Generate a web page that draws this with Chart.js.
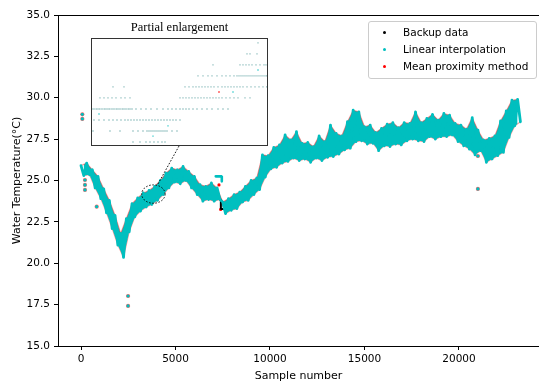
<!DOCTYPE html>
<html>
<head>
<meta charset="utf-8">
<script src="https://cdn.jsdelivr.net/npm/chart.js@4.4.1/dist/chart.umd.min.js"></script>
<style>
html,body{margin:0;padding:0;background:#fff;}
#wrap{position:relative;width:539px;height:383px;overflow:hidden;}
#main{position:absolute;left:0;top:0;}
#insetTitle{position:absolute;left:91px;top:20px;width:177px;text-align:center;font:12.5px "Liberation Serif",serif;color:#000;line-height:14px;}
#insetBox{position:absolute;left:91px;top:38px;width:175px;height:106px;border:1px solid #333;background:#fff;}
#inset{display:block;}
#legend{position:absolute;left:368px;top:21px;width:167px;height:54px;border:1px solid #ccc;border-radius:3px;background:rgba(255,255,255,0.85);
  font:10.5px "DejaVu Sans",sans-serif;color:#000;padding-top:2px;box-sizing:content-box;}
#legend .row{position:relative;height:17px;line-height:17px;padding-left:34px;white-space:nowrap;}
#legend .dot{position:absolute;left:14px;top:7px;width:3px;height:3px;border-radius:50%;}
</style>
</head>
<body>
<div id="wrap">
  <canvas id="main" width="539" height="383"></canvas>
  <div id="insetTitle">Partial enlargement</div>
  <div id="insetBox"><canvas id="inset" width="175" height="106"></canvas></div>
  <div id="legend"></div>
</div>
<script>
// ---- data ----
const seriesNames=['Backup data','Linear interpolation','Mean proximity method'];
const seriesColors=['#000000','#00bfbf','#ff0000'];

const xTicks=[0,5000,10000,15000,20000];
const yTicks=[15,17.5,20,22.5,25,27.5,30,32.5,35];

// daily highs (even positions) and lows (odd positions) of the record
const sampleNo=[0,150,300,450,600,750,900,1050,1200,1350,1500,1650,1800,1950,2100,2250,2400,2550,2700,2850,
 3000,3150,3300,3450,3600,3750,3900,4050,4200,4350,4500,4650,4800,4950,5100,5250,5400,5550,5700,5850,
 6000,6150,6300,6450,6600,6750,6900,7050,7200,7350,7500,7650,7800,7950,8100,8250,8400,8550,8700,8850,
 9000,9150,9300,9450,9600,9750,9900,10050,10200,10350,10500,10650,10800,10950,11100,11250,11400,11550,11700,11850,
 12000,12150,12300,12450,12600,12750,12900,13050,13200,13350,13500,13650,13800,13950,14100,14250,14400,14550,14700,14850,
 15000,15150,15300,15450,15600,15750,15900,16050,16200,16350,16500,16650,16800,16950,17100,17250,17400,17550,17700,17850,
 18000,18150,18300,18450,18600,18750,18900,19050,19200,19350,19500,19650,19800,19950,20100,20250,20400,20550,20700,20850,
 21000,21150,21300,21450,21600,21750,21900,22050,22200,22350,22500,22650,22800,22950,23100,23250];
const waterTemp=[25.90,25.30,26.05,25.35,25.65,24.55,25.25,23.90,24.50,23.05,
 23.80,22.10,22.90,21.10,21.80,20.35,22.70,21.90,23.60,22.80,
 23.95,23.15,24.25,23.40,24.40,23.55,24.65,23.80,25.00,24.15,
 25.45,24.55,25.75,24.90,25.65,24.80,25.85,25.00,25.55,24.55,
 25.25,24.15,24.75,23.75,24.65,23.85,24.85,23.75,24.55,23.85,
 23.70,23.00,23.90,23.20,24.15,23.30,24.30,23.70,24.65,23.80,
 25.00,24.15,25.15,24.45,26.55,25.20,26.50,25.70,27.00,25.80,
 27.15,26.05,27.75,26.15,27.45,26.35,27.95,26.20,27.25,26.30,
 27.30,26.10,27.05,26.35,27.70,26.20,27.35,26.40,28.35,26.45,
 27.85,26.60,27.70,26.85,28.55,26.95,29.25,27.35,29.15,27.40,
 28.25,27.20,28.35,27.25,27.90,26.80,28.15,27.10,28.40,27.05,
 28.50,27.20,28.20,27.15,28.50,27.40,28.45,27.50,29.15,27.40,
 28.50,27.35,28.75,27.65,29.00,27.50,28.65,27.65,29.05,27.65,
 28.95,27.75,28.45,27.35,28.35,27.10,28.10,26.90,28.80,26.55,
 28.05,26.80,27.45,26.10,27.55,26.30,27.70,26.50,28.60,26.70,
 29.20,27.60,29.85,28.30,29.90,28.55];

// short piece near sample 7300
const stepSamples=[7130,7450,7450];
const stepTemps=[25.25,25.25,24.95];
// backup data visible where the band breaks
const backupSamples=[7350,7400,7400,7560];
const backupTemps=[23.85,23.85,23.28,23.28];
// isolated points
const outlierSamples=[70,70,210,210,210,830,2490,2490,21000,21000];
const outlierTemps=[29.0,28.72,25.03,24.73,24.43,23.42,18.02,17.42,26.48,24.49];
const meanOnlySamples=[7300,7390];
const meanOnlyTemps=[24.73,23.25];

// inset: quantised levels and the samples seen on each
const insetLevels=[24.1875,24.125,24.0625,24.0,23.9375,23.875,23.8125,23.75,23.6875,23.625];
const insetRows=[
 [4302],
 [4236,4254,4296],
 [4032,4194,4212,4230,4248,4266,4290,4314,4338,4350],
 [3942,3972,4002,4026,4056,4086,4110,4134,4158,4176,4188,4200,4212,4224,4236,4248,4260,4272,4284,4296,4308,4320,4332,4344,4354],
 [3432,3498,3864,3888,3912,3930,3948,3966,3984,4002,4020,4038,4062,4086,4104,4122,4140,4158,4176,4194,4212,4236,4260,4284,4308,4332,4354],
 [3354,3378,3402,3426,3450,3480,3504,3534,3834,3852,3870,3888,3906,3924,3942,3960,3978,3996,4014,4032,4050,4068,4086,4110,4134,4158,4182,4224,4254],
 [3306,3318,3331,3342,3353,3366,3379,3390,3402,3413,3426,3438,3451,3462,3474,3487,3498,3510,3523,3534,3546,3570,3600,3630,3660,3696,3732,3762,3786,3810,3834,3852,3870,3888,3912,3936,3966,3996,4026,4062,4092,4122],
 [3318,3348,3378,3408,3432,3456,3480,3504,3522,3540,3558,3576,3594,3612,3630,3648,3666,3684,3702,3720,3738,3756,3774,3792,3810,3834],
 [3312,3414,3474,3552,3582,3612,3636,3648,3660,3672,3684,3696,3708,3720,3732,3744,3756,3786,3816],
 [3552,3594,3630,3654,3678,3702,3726,3744]
];
const insetExtraSamples=[4152,4302,3348,3762,3672];
const insetExtraTemps=[23.909,24.034,23.784,23.716,23.659];
const insetRedSamples=[4068];
const insetRedTemps=[23.909];

// ---- helpers ----
const pts=(xs,ys)=>xs.map((x,i)=>({x,y:ys[i]}));
const FONT='DejaVu Sans';
const allPts=pts(sampleNo,waterTemp);
const highPts=allPts.filter((p,i)=>i%2===0);
const lowPts=allPts.filter((p,i)=>i%2===1);

// legend
(function(){
  const lg=document.getElementById('legend');
  seriesNames.forEach((n,i)=>{
    const r=document.createElement('div'); r.className='row';
    const d=document.createElement('span'); d.className='dot'; d.style.background=seriesColors[i];
    r.appendChild(d); r.appendChild(document.createTextNode(n)); lg.appendChild(r);
  });
})();

// top spine + zoom ellipse + connector
const framePlugin={
  id:'frame',
  afterDatasetsDraw(chart){
    const {ctx,chartArea:a,scales:{x,y}}=chart;
    ctx.save();
    ctx.strokeStyle='#000'; ctx.lineWidth=1;
    ctx.beginPath(); ctx.moveTo(a.left,a.top+0.5); ctx.lineTo(a.right,a.top+0.5); ctx.stroke();
    ctx.setLineDash([1.6,1.6]); ctx.lineWidth=0.9;
    const cx=x.getPixelForValue(3831), cy=y.getPixelForValue(24.18);
    const rx=Math.abs(x.getPixelForValue(3831+620)-cx), ry=Math.abs(y.getPixelForValue(24.18+0.556)-cy);
    ctx.beginPath(); ctx.ellipse(cx,cy,rx,ry,0,0,Math.PI*2); ctx.stroke();
    ctx.beginPath();
    ctx.moveTo(x.getPixelForValue(5185),y.getPixelForValue(27.08));
    ctx.lineTo(x.getPixelForValue(4074),y.getPixelForValue(24.79));
    ctx.stroke();
    ctx.restore();
  }
};

const lineDs=(label,data,color,width,order,join)=>({label,data,showLine:true,borderColor:color,borderWidth:width,
  pointRadius:0,borderJoinStyle:join||'bevel',borderCapStyle:'round',fill:false,order});
const dotDs=(label,data,color,r,order)=>({label,data,showLine:false,backgroundColor:color,borderWidth:0,pointRadius:r,order});

const highDs=lineDs(seriesNames[2],highPts,'rgba(255,50,50,0.5)',1.1,4);
highDs.fill={target:2}; highDs.backgroundColor=seriesColors[1];

new Chart(document.getElementById('main'),{
  type:'scatter',
  data:{datasets:[
    lineDs(seriesNames[1],allPts,seriesColors[1],2.8,1,'round'),
    highDs,
    lineDs(seriesNames[2],lowPts,'rgba(255,50,50,0.5)',1.1,4),
    lineDs(seriesNames[1],pts(stepSamples,stepTemps),seriesColors[1],2.6,1),
    dotDs(seriesNames[1],pts(outlierSamples,outlierTemps),seriesColors[1],1.6,1),
    lineDs(seriesNames[0],pts(backupSamples,backupTemps),seriesColors[0],2,2),
    dotDs(seriesNames[2],pts(outlierSamples,outlierTemps),'rgba(255,40,40,0.7)',2.1,3),
    dotDs(seriesNames[2],pts(meanOnlySamples,meanOnlyTemps),seriesColors[2],1.6,3)
  ]},
  options:{
    responsive:false, animation:false,
    layout:{autoPadding:false,padding:{top:15,right:0,left:0,bottom:0}},
    plugins:{legend:{display:false},tooltip:{enabled:false}},
    scales:{
      x:{type:'linear',min:-1217,max:24233,
        afterBuildTicks:s=>{s.ticks=xTicks.map(v=>({value:v}));},
        afterFit:s=>{s.height=37;},
        grid:{display:true,drawOnChartArea:false,drawTicks:true,tickLength:4,color:'#000'},
        border:{display:true,color:'#000',width:1},
        ticks:{color:'#000',font:{family:FONT,size:10.5},padding:3,autoSkip:false,maxRotation:0,callback:v=>String(v)},
        title:{display:true,text:'Sample number',color:'#000',font:{family:FONT,size:11},padding:{top:0,bottom:0}}
      },
      y:{type:'linear',min:15,max:35,
        afterBuildTicks:s=>{s.ticks=yTicks.map(v=>({value:v}));},
        afterFit:s=>{s.width=58;},
        grid:{display:true,drawOnChartArea:false,drawTicks:true,tickLength:4,color:'#000'},
        border:{display:true,color:'#000',width:1},
        ticks:{color:'#000',font:{family:FONT,size:10.5},padding:4,callback:v=>v.toFixed(1)},
        title:{display:true,text:'Water Temperature(°C)',color:'#000',font:{family:FONT,size:11},padding:{top:11,bottom:0}}
      }
    }
  },
  plugins:[framePlugin]
});

// inset
const insetPts=[];
insetRows.forEach((row,i)=>row.forEach(s=>insetPts.push({x:s,y:insetLevels[i]})));
new Chart(document.getElementById('inset'),{
  type:'scatter',
  data:{datasets:[
    {data:pts(insetRedSamples,insetRedTemps),backgroundColor:'#ff2020',pointStyle:'rect',pointRadius:1,borderWidth:0},
    {data:pts(insetExtraSamples,insetExtraTemps),backgroundColor:'rgba(0,190,190,0.8)',pointStyle:'rect',pointRadius:0.9,borderWidth:0},
    {data:insetPts,backgroundColor:'rgba(50,135,135,0.55)',pointStyle:'rect',pointRadius:0.9,borderWidth:0}
  ]},
  options:{
    responsive:false, animation:false,
    layout:{autoPadding:false,padding:0},
    plugins:{legend:{display:false},tooltip:{enabled:false}},
    scales:{
      x:{type:'linear',display:false,min:3306,max:4356},
      y:{type:'linear',display:false,min:23.608,max:24.21}
    }
  }
});
</script>
</body>
</html>
